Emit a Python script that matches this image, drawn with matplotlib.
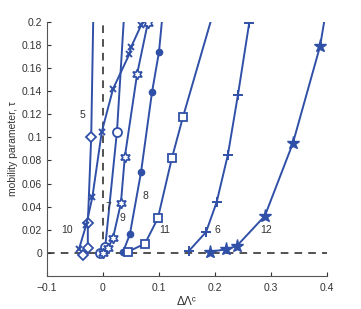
import matplotlib
matplotlib.use("Agg")
import matplotlib.pyplot as plt

plt.rcParams['font.family'] = ['Liberation Sans', 'DejaVu Sans']

# curve data (x = ΔΛc, y = tau)
c5_x = [-0.036, -0.027, -0.027, -0.021, -0.016]
c5_y = [-0.002, 0.004, 0.026, 0.100, 0.240]
c10_x = [-0.043, -0.030, -0.019, -0.002, 0.018, 0.047, 0.050, 0.068, 0.085]
c10_y = [0.003, 0.024, 0.048, 0.105, 0.142, 0.172, 0.178, 0.197, 0.215]
c7_x = [-0.005, 0.004, 0.025, 0.042]
c7_y = [0.000, 0.005, 0.105, 0.240]
c9_x = [0.000, 0.009, 0.018, 0.032, 0.039, 0.061, 0.080]
c9_y = [0.000, 0.004, 0.013, 0.043, 0.083, 0.155, 0.199]
c8_x = [0.036, 0.048, 0.068, 0.0875, 0.100, 0.110]
c8_y = [0.001, 0.016, 0.070, 0.139, 0.174, 0.225]
c11_x = [0.045, 0.075, 0.098, 0.123, 0.143, 0.210]
c11_y = [0.001, 0.008, 0.030, 0.082, 0.118, 0.230]
c6_x = [0.154, 0.184, 0.203, 0.223, 0.241, 0.261]
c6_y = [0.002, 0.018, 0.044, 0.085, 0.137, 0.199]
c12_x = [0.191, 0.220, 0.239, 0.289, 0.339, 0.3875, 0.400]
c12_y = [0.001, 0.003, 0.006, 0.032, 0.095, 0.179, 0.215]

labels = ['5', '10', '7', '9', '8', '11', '6', '12']
label_x = [-0.036, -0.064, 0.009, 0.034, 0.075, 0.111, 0.205, 0.291]
label_y = [0.119, 0.020, 0.040, 0.030, 0.049, 0.020, 0.020, 0.020]

xticks = [-0.1, 0, 0.1, 0.2, 0.3, 0.4]
xticklabels = ['\u22120.1', '0', '0.1', '0.2', '0.3', '0.4']
yticks = [0, 0.02, 0.04, 0.06, 0.08, 0.1, 0.12, 0.14, 0.16, 0.18, 0.2]
yticklabels = ['0', '0.02', '0.04', '0.06', '0.08', '0.1', '0.12', '0.14', '0.16', '0.18', '0.2']

blue = '#3050a8'
fig = plt.figure(figsize=(3.61, 3.09), dpi=100)
ax = fig.add_axes([0.130, 0.107, 0.776, 0.822])

ax.axhline(0, color='#222222', lw=1.1, ls=(0, (5, 4)), zorder=1)
ax.plot([0, 0], [0, 0.2], color='#222222', lw=1.1, ls=(0, (5, 4)), zorder=1)

lw = 1.4
ax.plot(c5_x, c5_y, color=blue, lw=lw, marker='D', ms=5, mfc='white', mew=1.3)
ax.plot(c10_x, c10_y, color=blue, lw=lw, marker='x', ms=5, mew=1.4)
ax.plot(c7_x, c7_y, color=blue, lw=lw, marker='o', ms=6.5, mfc='white', mew=1.3)
ax.plot(c9_x, c9_y, color=blue, lw=lw, marker=(6, 1, 0), ms=7.5, mfc='white', mew=1.2)
ax.plot(c8_x, c8_y, color=blue, lw=lw, marker='o', ms=4.5, mfc=blue, mew=1)
ax.plot(c11_x, c11_y, color=blue, lw=lw, marker='s', ms=5.5, mfc='white', mew=1.3)
ax.plot(c6_x, c6_y, color=blue, lw=lw, marker='+', ms=7, mew=1.4)
ax.plot(c12_x, c12_y, color=blue, lw=lw, marker='*', ms=9.5, mfc=blue, mew=1)

for t, x, y in zip(labels, label_x, label_y):
    ax.text(x, y, t, fontsize=7.5, color='#333333', ha='center', va='center')

ax.set_xlim(-0.1, 0.4)
ax.set_ylim(-0.02, 0.2)
ax.set_xticks(xticks)
ax.set_xticklabels(xticklabels)
ax.set_yticks(yticks)
ax.set_yticklabels(yticklabels)
ax.tick_params(direction='in', length=3, labelsize=7.5, colors='#333333', width=0.8)
ax.tick_params(axis='x', pad=5)
for s in ['top', 'right']:
    ax.spines[s].set_visible(False)
for s in ['left', 'bottom']:
    ax.spines[s].set_color('#555555')
    ax.spines[s].set_linewidth(0.8)
ax.set_ylabel('mobility parameter, \u03c4', fontsize=7.5, color='#333333', labelpad=3)
ax.set_xlabel('\u0394\u039b\u1d9c', fontsize=8.5, color='#333333', labelpad=2)

fig.savefig('out.png', dpi=100)
